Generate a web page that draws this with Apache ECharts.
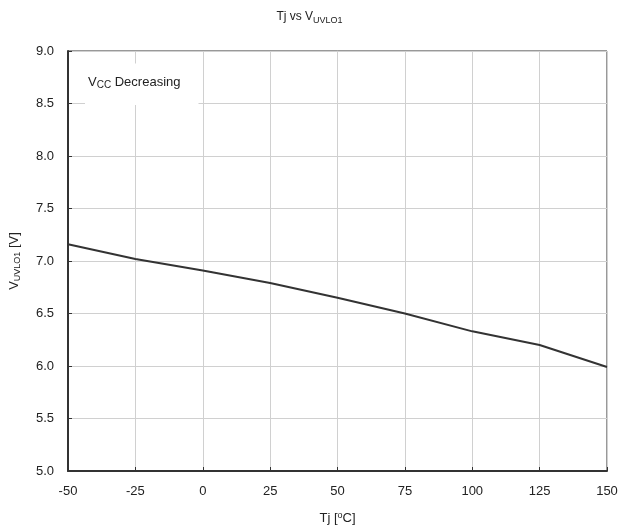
<!DOCTYPE html>
<html>
<head>
<meta charset="utf-8">
<script src="https://cdn.jsdelivr.net/npm/echarts@6/dist/echarts.min.js"></script>
<style>html,body{margin:0;padding:0;background:#fff;}#c{width:619px;height:527px;}</style>
</head>
<body>
<div id="c"></div>
<script>
var tj = [-50, -25, 0, 25, 50, 75, 100, 125, 150];
var vuvlo1 = [7.16, 7.02, 6.91, 6.79, 6.65, 6.50, 6.33, 6.20, 5.99];
var xTicks = [-50, -25, 0, 25, 50, 75, 100, 125, 150];
var yTicks = [5.0, 5.5, 6.0, 6.5, 7.0, 7.5, 8.0, 8.5, 9.0];

var chart = echarts.init(document.getElementById('c'), null, {renderer: 'canvas'});
var font = 'Liberation Sans, Arial, sans-serif';
chart.setOption({
  animation: false,
  backgroundColor: '#fff',
  title: [{
    text: '{a|Tj vs V}{s|UVLO1}',
    left: 'center',
    top: 4,
    textStyle: {
      rich: {
        a: {fontFamily: font, fontSize: 12, fontWeight: 'normal', color: '#222'},
        s: {fontFamily: font, fontSize: 9, fontWeight: 'normal', color: '#222', verticalAlign: 'bottom', padding: [7, 0, 0, 0]}
      }
    }
  }, {
    text: '{a|V}{s|CC}{a| Decreasing}',
    left: 85,
    top: 62,
    backgroundColor: '#fff',
    padding: [12, 18, 15, 3],
    textStyle: {
      rich: {
        a: {fontFamily: font, fontSize: 13, fontWeight: 'normal', color: '#222'},
        s: {fontFamily: font, fontSize: 10, fontWeight: 'normal', color: '#222', verticalAlign: 'bottom', padding: [6, 0, 0, 0]}
      }
    }
  }],
  grid: {left: 68, right: 12, top: 51, bottom: 56, show: true, borderColor: '#333', borderWidth: 1,
    containLabel: false, outerBoundsMode: 'none'},
  xAxis: {
    type: 'value',
    min: -50, max: 150, interval: 25,
    name: 'Tj [{sup|o}C]',
    nameLocation: 'middle',
    nameGap: 40,
    nameTextStyle: {fontFamily: font, fontSize: 13, color: '#222', rich: {sup: {fontSize: 9, verticalAlign: 'top', padding: [0,0,6,0], fontFamily: font, color: '#222'}}},
    axisLine: {show: true, onZero: false, lineStyle: {color: '#333', width: 2}},
    axisTick: {show: true, inside: true, length: 4, lineStyle: {color: '#333'}},
    axisLabel: {fontFamily: font, fontSize: 13, color: '#222', margin: 14,
      formatter: function (v) { return xTicks.indexOf(v) >= 0 ? String(v) : ''; }},
    splitLine: {show: true, lineStyle: {color: '#d0d0d0', width: 1}}
  },
  yAxis: {
    type: 'value',
    min: 5.0, max: 9.0, interval: 0.5,
    name: '{a|V}{s|UVLO1}{a| [V]}',
    nameLocation: 'middle',
    nameGap: 46,
    nameRotate: 90,
    nameTextStyle: {rich: {
      a: {fontFamily: font, fontSize: 13, color: '#222'},
      s: {fontFamily: font, fontSize: 9, color: '#222', verticalAlign: 'bottom', padding: [7, 0, 0, 0]}
    }},
    axisLine: {show: true, onZero: false, lineStyle: {color: '#333', width: 2}},
    axisTick: {show: true, inside: true, length: 4, lineStyle: {color: '#333'}},
    axisLabel: {fontFamily: font, fontSize: 13, color: '#222', margin: 14,
      formatter: function (v) { return v.toFixed(1); }},
    splitLine: {show: true, lineStyle: {color: '#d0d0d0', width: 1}}
  },
  series: [{
    type: 'line',
    data: tj.map(function (t, i) { return [t, vuvlo1[i]]; }),
    symbol: 'none',
    lineStyle: {color: '#333', width: 2},
    z: 3
  }]
});
</script>
</body>
</html>
